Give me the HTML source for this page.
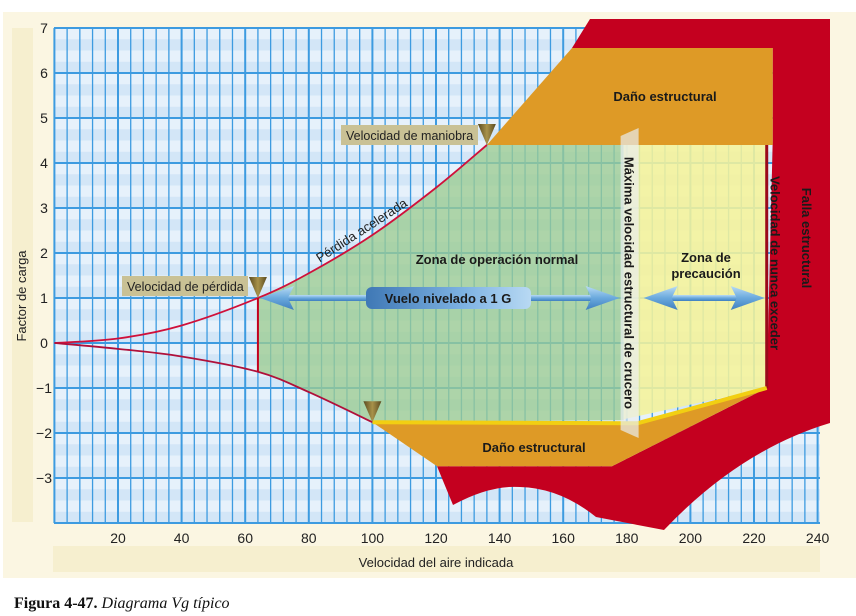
<!DOCTYPE html>
<html><head><meta charset="utf-8"><style>
html,body{margin:0;padding:0;background:#fff;}
svg{display:block;font-family:"Liberation Sans",sans-serif;}
.b{font-weight:bold;font-size:13px;fill:#1a1a1a;}
</style></head><body>
<svg id="chart" width="856" height="616" viewBox="0 0 856 616">
<defs>
<linearGradient id="arr" x1="0" y1="0" x2="0" y2="1"><stop offset="0" stop-color="#b9dcf5"/><stop offset="0.5" stop-color="#6aa9dd"/><stop offset="1" stop-color="#3f7fbf"/></linearGradient>
<linearGradient id="pill" x1="0" y1="0" x2="1" y2="0"><stop offset="0" stop-color="#3f78b5"/><stop offset="0.6" stop-color="#7eb3e3"/><stop offset="1" stop-color="#b8d9f3"/></linearGradient>
<linearGradient id="cone" x1="0" y1="0" x2="1" y2="0"><stop offset="0" stop-color="#5a4a20"/><stop offset="0.5" stop-color="#a8924a"/><stop offset="1" stop-color="#5a4a20"/></linearGradient>
</defs>
<rect x="3" y="12" width="853" height="566" fill="#fbf6e2"/>
<rect x="12" y="28" width="21" height="494" fill="#f6efcf"/>
<rect x="53" y="546" width="767" height="26" fill="#f6efcf"/>
<g id="grid"></g>
<g id="zones"></g>
<g id="labels"></g>
<text x="26" y="296" transform="rotate(-90 26 296)" text-anchor="middle" font-size="13" fill="#222">Factor de carga</text>
<text x="436" y="567" text-anchor="middle" font-size="13" fill="#222">Velocidad del aire indicada</text>
<text x="14" y="608" font-family="Liberation Serif, serif" font-size="16" fill="#111"><tspan font-weight="bold">Figura 4-47.</tspan><tspan font-style="italic"> Diagrama Vg típico</tspan></text>
</svg>
<script>
const xTicks = [20,40,60,80,100,120,140,160,180,200,220,240];
const yTicks = [-3,-2,-1,0,1,2,3,4,5,6,7];
const upperSpeeds = [0,20,40,64,80,100,120,136];
const upperLoads = [0,0.1,0.39,1,1.55,2.4,3.45,4.4];
const lowerSpeeds = [0,20,40,64,80,100];
const lowerLoads = [0,-0.13,-0.3,-0.64,-1.09,-1.76];
const stallSpeed = 64;
const maneuverSpeed = 136;
const cruiseSpeed = 179;
const neverExceed = 224;
const posLimit = 4.4;
const negLimit = -1.76;
const negLimitVne = -1.0;

const NS="http://www.w3.org/2000/svg";
const X=v=>54.4+v*3.18;
const Y=g=>343-45*g;
function el(tag,attrs,parent){const e=document.createElementNS(NS,tag);for(const k in attrs)e.setAttribute(k,attrs[k]);parent.appendChild(e);return e;}
const grid=document.getElementById('grid'),zones=document.getElementById('zones'),labels=document.getElementById('labels');

const bg=el('rect',{x:54,y:28,width:766,height:495,fill:'#e6f1fb'},grid);


for(let g=-4;g<7;g+=0.25){ if(Math.round(g*4)%2===0){ const r=el('rect',{x:54,y:Y(g+0.25),width:766,height:11.25,fill:'#d3e6f7'},grid);

}}
for(let v=0;v<=240;v+=4){const l=el('line',{x1:X(v),x2:X(v),y1:28,y2:523,stroke:'#3d9be0','stroke-width':v%20===0?2:1.3},grid);

}
for(let g=-4;g<=7;g++){const l=el('line',{x1:54,x2:820,y1:Y(g),y2:Y(g),stroke:'#3d9be0','stroke-width':2},grid);

}
xTicks.forEach(t=>{const e=el('text',{x:X(t),y:543,'text-anchor':'middle','font-size':14,fill:'#222'},labels);e.textContent=t;

});
yTicks.forEach(t=>{const e=el('text',{x:44,y:Y(t)+5,'text-anchor':'middle','font-size':14,fill:'#222'},labels);e.textContent=t<0?'\u2212'+(-t):t;

});

function curve(xs,ys){
  const p=xs.map((v,i)=>[X(v),Y(ys[i])]);let d='M'+p[0][0]+','+p[0][1];
  for(let i=0;i<p.length-1;i++){const p0=p[i-1]||p[i],p1=p[i],p2=p[i+1],p3=p[i+2]||p2;
    d+=` C${p1[0]+(p2[0]-p0[0])/6},${p1[1]+(p2[1]-p0[1])/6} ${p2[0]-(p3[0]-p1[0])/6},${p2[1]-(p3[1]-p1[1])/6} ${p2[0]},${p2[1]}`;}
  return d;}
function interp(xs,ys,v){for(let i=0;i<xs.length-1;i++){if(v>=xs[i]&&v<=xs[i+1])return ys[i]+(ys[i+1]-ys[i])*(v-xs[i])/(xs[i+1]-xs[i]);}return ys[ys.length-1];}

const vneX=X(neverExceed);
const red=el('path',{d:`M590,19 L830,19 L830,${Y(negLimitVne)+35} Q740,450 664,530 L596,517 Q560,488 520,487 Q490,485 453,505 L437,${Y(negLimit)+44} L612,${Y(negLimit)+44} L${vneX},${Y(negLimitVne)} L${vneX+6},140 L${vneX+6},48 L572,48 Z`,fill:'#c4001f'},zones);



const cx=X(cruiseSpeed);
let gd=curve(upperSpeeds.filter(v=>v>=stallSpeed),upperLoads.filter((g,i)=>upperSpeeds[i]>=stallSpeed));
gd+=` L${cx},${Y(posLimit)} L${cx},${Y(negLimit)-2} L${X(100)},${Y(negLimit)}`;
const lsx=lowerSpeeds.filter(v=>v>=stallSpeed).reverse(),lsy=lowerSpeeds.map((v,i)=>[v,lowerLoads[i]]).filter(a=>a[0]>=stallSpeed).reverse().map(a=>a[1]);
gd+=curve(lsx,lsy).replace(/^M[^ ]+/,'')+' Z';
const green=el('path',{d:gd,fill:'#9ccc92','fill-opacity':0.78},zones);



const yl=el('path',{d:`M${cx},${Y(posLimit)} L${vneX},${Y(posLimit)} L${vneX},${Y(negLimitVne)} L${cx},${Y(negLimit)-3} Z`,fill:'#f5f39a','fill-opacity':0.88},zones);


const vl=el('line',{x1:vneX,x2:vneX,y1:Y(posLimit),y2:Y(negLimitVne),stroke:'#9a0a1a','stroke-width':3},zones);



const ot=el('path',{d:`M${X(maneuverSpeed)},${Y(posLimit)} L572,48 L${vneX+6},48 L${vneX+6},${Y(posLimit)} Z`,fill:'#de9a26'},zones);


const ob=el('path',{d:`M${X(100)},${Y(negLimit)} L${cx+14},${Y(negLimit)+1} L${vneX},${Y(negLimitVne)} L612,${Y(negLimit)+44} L437,${Y(negLimit)+44} Z`,fill:'#de9a26'},zones);


const ys=el('path',{d:`M${X(100)},${Y(negLimit)} L${cx+14},${Y(negLimit)+1} L${vneX},${Y(negLimitVne)}`,fill:'none',stroke:'#f2cf12','stroke-width':4},zones);



const uc=el('path',{d:curve(upperSpeeds,upperLoads),fill:'none',stroke:'#d0103a','stroke-width':1.8},zones);


const lc=el('path',{d:curve(lowerSpeeds,lowerLoads),fill:'none',stroke:'#b0103a','stroke-width':1.8},zones);


const sl=el('line',{x1:X(stallSpeed),x2:X(stallSpeed),y1:Y(interp(upperSpeeds,upperLoads,stallSpeed)),y2:Y(interp(lowerSpeeds,lowerLoads,stallSpeed)),stroke:'#c4001f','stroke-width':2},zones);



const dv=el('path',{d:`M${cx-3},136 L${cx+15},128 L${cx+15},438 L${cx-3},430 Z`,fill:'#e8ecef','fill-opacity':0.7},zones);



function arrow(x1,x2,y,name){const g=el('g',{},labels);


el('rect',{x:x1+20,y:y-3,width:x2-x1-40,height:6,fill:'url(#arr)'},g);
el('path',{d:`M${x1},${y} L${x1+34},${y-12} L${x1+28},${y} L${x1+34},${y+12} Z`,fill:'url(#arr)'},g);
el('path',{d:`M${x2},${y} L${x2-34},${y-12} L${x2-28},${y} L${x2-34},${y+12} Z`,fill:'url(#arr)'},g);}
arrow(X(stallSpeed)+2,cx-4,Y(1),'level-flight-arrow');
arrow(cx+20,vneX-2,Y(1),'caution-arrow');
const pill=el('rect',{x:366,y:287,width:165,height:22,rx:6,fill:'url(#pill)'},labels);



function txt(s,x,y,cls,extra,name){const e=el('text',Object.assign({x:x,y:y,'class':cls,'text-anchor':'middle'},extra||{}),labels);e.textContent=s;

return e;}
txt('Vuelo nivelado a 1 G',448,303,'b',{},'level-flight-label');
txt('Daño estructural',665,101,'b',{},'structural-damage-top-label');
txt('Daño estructural',534,452,'b',{},'structural-damage-bottom-label');
txt('Zona de operación normal',497,264,'b',{},'normal-zone-label');
txt('Zona de',706,262,'b',{},'caution-zone-label-1');
txt('precaución',706,278,'b',{},'caution-zone-label-2');
txt('Máxima velocidad estructural de crucero',0,0,'b',{transform:`translate(${cx+1},283) rotate(90)`,'font-size':15},'cruise-speed-label');
txt('Velocidad de nunca exceder',0,0,'b',{transform:`translate(${vneX+4},263) rotate(90)`},'vne-label');
txt('Falla estructural',0,0,'b',{transform:'translate(802,238) rotate(90)'},'structural-failure-label');
txt('Pérdida acelerada',0,0,'',{transform:'translate(364,234) rotate(-33)','font-size':13,fill:'#222'},'accelerated-stall-label');

function callout(s,x,y,w,name){const r=el('rect',{x:x,y:y,width:w,height:20,fill:'#c9c195'},labels);


const t=el('text',{x:x+5,y:y+15,'font-size':12.5,fill:'#222'},labels);t.textContent=s;

}
callout('Velocidad de pérdida',122,276,126,'stall-speed-callout');
callout('Velocidad de maniobra',341,125,137,'maneuver-speed-callout');
function cone(v,g,name){const x=X(v),y=Y(g);const c=el('path',{d:`M${x-9},${y-21} L${x+9},${y-21} L${x},${y} Z`,fill:'url(#cone)'},labels);

}
cone(stallSpeed,1,'stall-speed-marker');
cone(maneuverSpeed,posLimit,'maneuver-speed-marker');
cone(100,negLimit,'negative-limit-marker');
</script>
</body></html>
